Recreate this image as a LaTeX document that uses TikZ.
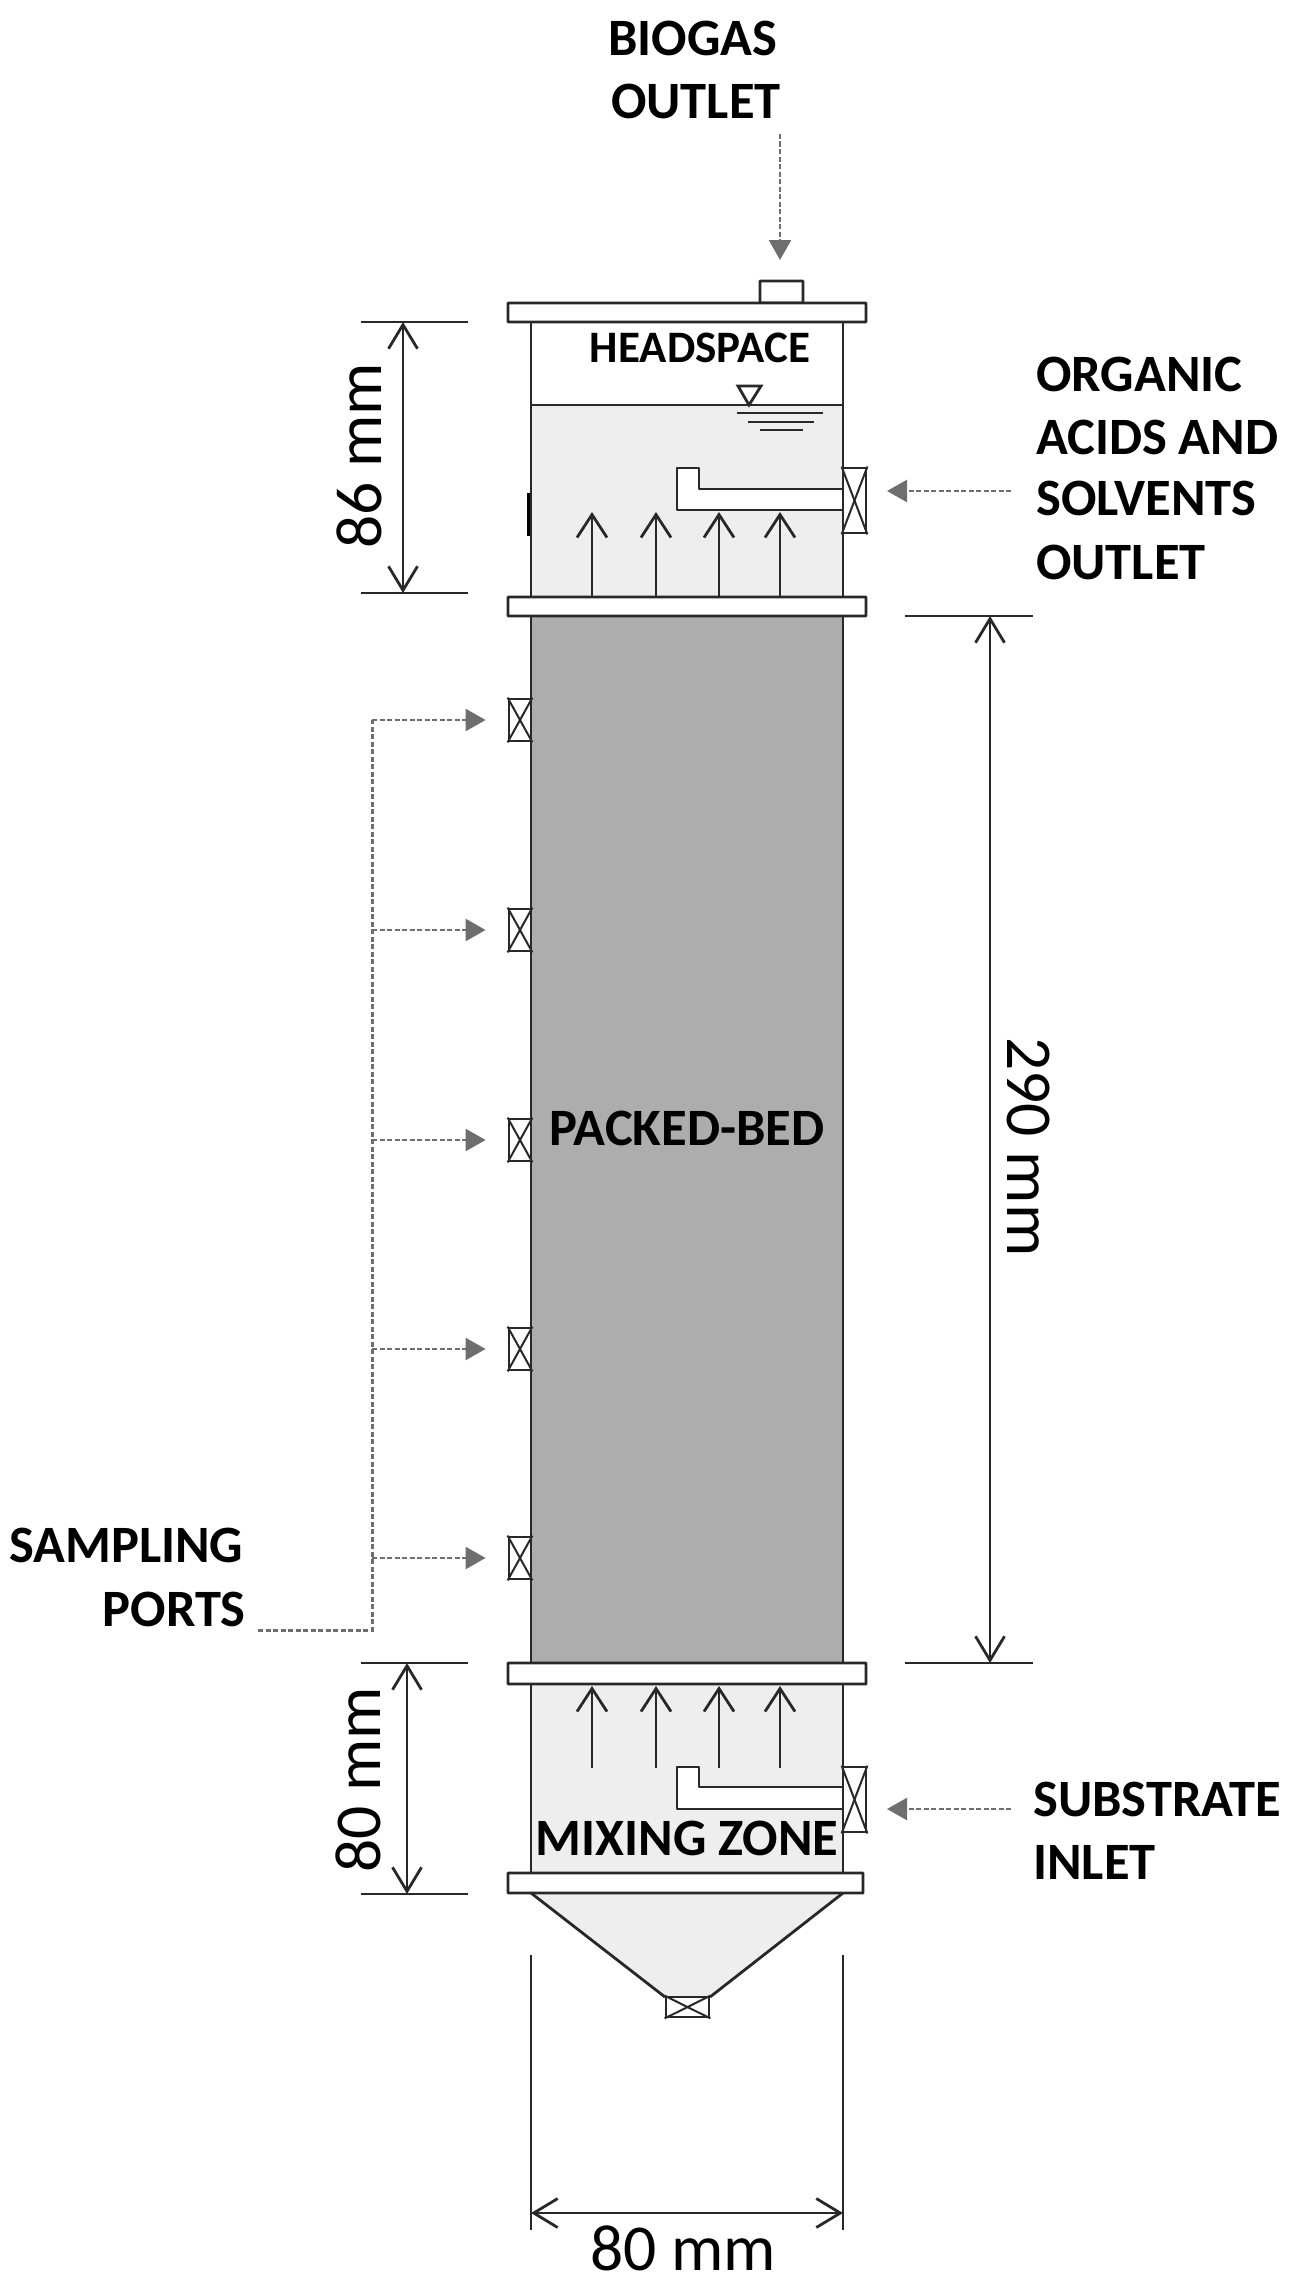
\documentclass[tikz,border=0pt]{standalone}
\usepackage{fontspec}
\setmainfont{Carlito}
\usepackage{xcolor}
\usetikzlibrary{arrows.meta,positioning}
\definecolor{liquidgrey}{RGB}{238,238,238}
\definecolor{bedgrey}{RGB}{173,173,173}
\definecolor{wallblack}{RGB}{40,40,40}
\definecolor{guidegrey}{RGB}{110,110,110}
\tikzset{
  wall/.style={draw=wallblack,line width=2.8pt},
  flange/.style={wall,fill=white,rounded corners=0.5pt},
  valvebox/.style={wall,fill=white,inner sep=0pt,rectangle},
  flow/.style={wall,-{Straight Barb[length=23pt,width=30pt,line width=2.8pt]}},
  dimline/.style={draw=wallblack,line width=2.8pt},
  dimarrow/.style={dimline,{Straight Barb[length=24pt,width=29pt,line width=2.8pt]}-{Straight Barb[length=24pt,width=29pt,line width=2.8pt]}},
  guide/.style={draw=guidegrey,line width=2.4pt,dash pattern=on 5pt off 2.5pt},
  guidearrow/.style={guide,-{Triangle[length=20pt,width=22pt,fill=guidegrey]}},
  biglabel/.style={font=\fontsize{52.5}{60}\selectfont\bfseries,text=black,inner sep=0pt},
  dimlabel/.style={font=\fontsize{65.5}{70}\selectfont,text=black,inner sep=0pt},
}
\begin{document}
\begin{tikzpicture}[x=1pt,y=-1pt]
  \useasboundingbox (0,0) rectangle (1295,2288);
  % liquid and bed
  \fill[liquidgrey] (531,405) rectangle (843,597);
  \fill[liquidgrey] (531,1684) rectangle (843,1873);
  \fill[liquidgrey] (531,1893) -- (665,1997) -- (710,1997) -- (843,1893) -- cycle;
  \fill[bedgrey] (531,616) rectangle (843,1663);
  % walls
  \draw[wall] (531,322) -- (531,597);
  \draw[wall] (843,322) -- (843,597);
  \draw[wall] (531,616) -- (531,1663);
  \draw[wall] (843,616) -- (843,1663);
  \draw[wall] (531,1684) -- (531,1873);
  \draw[wall] (843,1684) -- (843,1873);
  \draw[wall] (531,405) -- (843,405);
  \draw[wall] (531,1893) -- (665,1997);
  \draw[wall] (843,1893) -- (710,1997);
  \draw[draw=black,line width=3pt] (528,493) -- (528,536);
  % flanges
  \draw[flange] (760,303) rectangle (803,281);
  \draw[flange] (508,303) rectangle (866,322);
  \draw[flange] (508,597) rectangle (866,616);
  \draw[flange] (508,1663) rectangle (866,1684);
  \draw[flange] (508,1873) rectangle (863,1893);
  % water level
  \draw[wall,fill=white,line join=miter] (738,386) -- (761,386) -- (749,405) -- cycle;
  \draw[wall] (737,413) -- (823,413);
  \draw[wall] (748,422) -- (814,422);
  \draw[wall] (760,430) -- (803,430);
  % upflow arrows
  \foreach \xpos in {592,656,719,780} {
    \draw[flow] (\xpos,597) -- (\xpos,512);
    \draw[flow] (\xpos,1768) -- (\xpos,1686);
  }
  % pipes
  \draw[wall,fill=white,line join=round] (843,489) -- (699,489) -- (699,468) -- (677,468) -- (677,510) -- (843,510);
  \draw[wall,fill=white,line join=round] (843,1787) -- (699,1787) -- (699,1767) -- (677,1767) -- (677,1809) -- (843,1809);
  % valves
  \node[valvebox,minimum width=23pt,minimum height=65pt] (outletvalve) at (854.5,500.5) {};
  \node[valvebox,minimum width=23pt,minimum height=65pt] (inletvalve) at (854.5,1799.5) {};
  \node[valvebox,minimum width=43pt,minimum height=20pt] (drainvalve) at (687.5,2007) {};
  \node[valvebox,minimum width=22pt,minimum height=42pt] (port1) at (520,720) {};
  \node[valvebox,minimum width=22pt,minimum height=42pt] (port2) at (520,930) {};
  \node[valvebox,minimum width=22pt,minimum height=42pt] (port3) at (520,1140) {};
  \node[valvebox,minimum width=22pt,minimum height=42pt] (port4) at (520,1349) {};
  \node[valvebox,minimum width=22pt,minimum height=42pt] (port5) at (520,1558) {};
  \foreach \vname in {outletvalve,inletvalve,drainvalve,port1,port2,port3,port4,port5} {
    \draw[wallblack,line width=2pt] (\vname.north west) -- (\vname.south east);
    \draw[wallblack,line width=2pt] (\vname.south west) -- (\vname.north east);
  }
  % labels
  \node[biglabel] (biogas) at (693,38) {BIOGAS};
  \node[biglabel] (biogasout) at (696,101) {OUTLET};
  \node[biglabel,font=\fontsize{45}{50}\selectfont\bfseries] (headspace) at (700,348) {HEADSPACE};
  \node[biglabel,anchor=west] (organic1) at (1036,374) {ORGANIC};
  \node[biglabel,anchor=west] (organic2) at (1036,437) {ACIDS AND};
  \node[biglabel,anchor=west] (organic3) at (1036,498) {SOLVENTS};
  \node[biglabel,anchor=west] (organic4) at (1036,562) {OUTLET};
  \node[biglabel] (bed) at (687,1128) {PACKED-BED};
  \node[biglabel,anchor=west] (sampling) at (9,1545) {SAMPLING};
  \node[biglabel,anchor=east] (ports) at (246,1609) {PORTS};
  \node[biglabel] (mixing) at (687,1838) {MIXING ZONE};
  \node[biglabel,anchor=west] (substrate) at (1033,1799) {SUBSTRATE};
  \node[biglabel,anchor=west] (inlet) at (1033,1862) {INLET};
  % outlet and inlet pointers
  \coordinate (biogastip) at (780,260);
  \coordinate (outlettip) at (887,491);
  \coordinate (inlettip) at (887,1809);
  \draw[guidearrow] (780,134) -- (biogastip);
  \draw[guidearrow] (1011,491) -- (outlettip);
  \draw[guidearrow] (1011,1809) -- (inlettip);
  % sampling ports
  \coordinate (corner) at (372,1630);
  \coordinate (porttop) at (372,720);
  \draw[guide,line width=3pt] (ports.east |- corner) ++(12,0) -- (corner) -- (porttop);
  \foreach \pname in {port1,port2,port3,port4,port5} {
    \draw[guidearrow] (corner |- \pname) -- ([xshift=-22pt]\pname.west);
  }
  % dimensions
  \draw[dimline] (361,322) -- (468,322);
  \draw[dimline] (361,593) -- (468,593);
  \draw[dimarrow] (403,322) -- (403,593);
  \node[dimlabel,rotate=90] (dim86) at (359,456) {86 mm};
  \draw[dimline] (905,616) -- (1033,616);
  \draw[dimline] (905,1663) -- (1033,1663);
  \draw[dimarrow] (990,616) -- (990,1663);
  \node[dimlabel,rotate=-90] (dim290) at (1029,1147) {290 mm};
  \draw[dimline] (361,1663) -- (468,1663);
  \draw[dimline] (361,1894) -- (468,1894);
  \draw[dimarrow] (407,1663) -- (407,1894);
  \node[dimlabel,rotate=90] (dim80) at (358,1780) {80 mm};
  \draw[dimline] (531,1955) -- (531,2230);
  \draw[dimline] (843,1955) -- (843,2230);
  \draw[dimarrow] (531,2213) -- (843,2213);
  \node[dimlabel] (dimwidth) at (683,2248) {80 mm};
\end{tikzpicture}
\end{document}
